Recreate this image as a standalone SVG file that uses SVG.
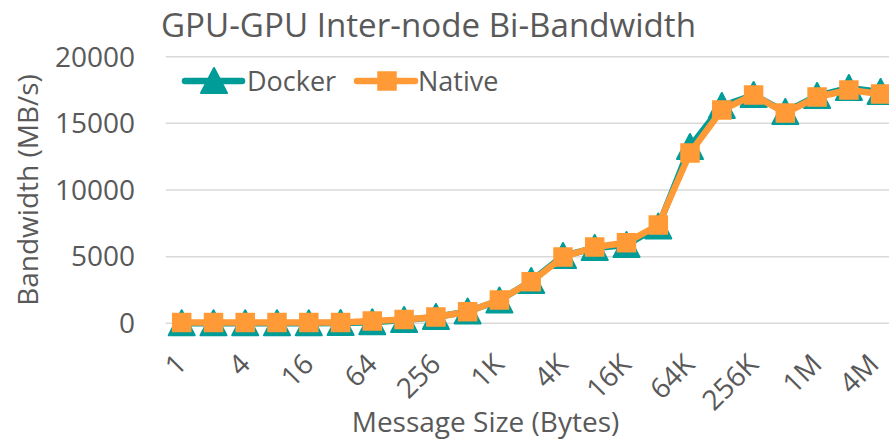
<svg xmlns="http://www.w3.org/2000/svg" width="889" height="439" viewBox="0 0 889 439">
<style>
text{font-family:"Open Sans","Noto Sans","DejaVu Sans",sans-serif;fill:#595959}
.title{font-size:33px}
.lab{font-size:27px}
.axt{font-size:28px}
.ylab{font-size:28px;text-anchor:end}
.xlab{font-size:28px;text-anchor:end}
.grid{stroke:#D9D9D9;stroke-width:1.5}
.docker{fill:none;stroke:#009C97;stroke-width:6.5;stroke-linejoin:round;stroke-linecap:round}
.native{fill:none;stroke:#FF9A36;stroke-width:6.5;stroke-linejoin:round;stroke-linecap:round}
</style>
<defs>
<marker id="tri" markerUnits="userSpaceOnUse" markerWidth="30" markerHeight="30" refX="0" refY="0" orient="0" overflow="visible">
<path d="M0,-13 L13,12 L-13,12 Z" fill="#009C97" stroke="#009C97" stroke-width="2" stroke-linejoin="round"/>
</marker>
<marker id="sq" markerUnits="userSpaceOnUse" markerWidth="30" markerHeight="30" refX="0" refY="0" orient="0" overflow="visible">
<rect x="-9.75" y="-9.75" width="19.5" height="19.5" fill="#FF9A36"/>
</marker>
</defs>
<g id="title"><text class="title" x="161" y="37" textLength="535" lengthAdjust="spacingAndGlyphs">GPU-GPU Inter-node Bi-Bandwidth</text></g>
<g id="gridlines">
<line class="grid" x1="165.8" y1="56.8" x2="889" y2="56.8"/>
<line class="grid" x1="165.8" y1="123.3" x2="889" y2="123.3"/>
<line class="grid" x1="165.8" y1="190" x2="889" y2="190"/>
<line class="grid" x1="165.8" y1="256.7" x2="889" y2="256.7"/>
<line class="grid" x1="165.8" y1="323.3" x2="889" y2="323.3"/>
</g>
<g id="y-axis">
<text class="ylab" x="135" y="66.5">20000</text>
<text class="ylab" x="135" y="133">15000</text>
<text class="ylab" x="135" y="199.5">10000</text>
<text class="ylab" x="135" y="266">5000</text>
<text class="ylab" x="135" y="333">0</text>
<text class="axt" text-anchor="middle" transform="translate(38,190) rotate(-90)">Bandwidth (MB/s)</text>
</g>
<g id="x-axis">
<text class="xlab" transform="translate(188,366) rotate(-45)">1</text>
<text class="xlab" transform="translate(251.7,366) rotate(-45)">4</text>
<text class="xlab" transform="translate(315.3,366) rotate(-45)">16</text>
<text class="xlab" transform="translate(378.8,366) rotate(-45)">64</text>
<text class="xlab" transform="translate(442.4,366) rotate(-45)">256</text>
<text class="xlab" transform="translate(505.9,366) rotate(-45)">1K</text>
<text class="xlab" transform="translate(569.5,366) rotate(-45)">4K</text>
<text class="xlab" transform="translate(633,366) rotate(-45)">16K</text>
<text class="xlab" transform="translate(696.5,366) rotate(-45)">64K</text>
<text class="xlab" transform="translate(760.1,366) rotate(-45)">256K</text>
<text class="xlab" transform="translate(823.6,366) rotate(-45)">1M</text>
<text class="xlab" transform="translate(880.5,366) rotate(-45)">4M</text>
<text class="axt" text-anchor="middle" x="485.5" y="431.5">Message Size (Bytes)</text>
</g>
<g id="connectors">
<polyline id="docker-series" class="docker" marker-start="url(#tri)" marker-mid="url(#tri)" marker-end="url(#tri)" points="181.7,323.3 213.5,323.3 245.2,323.3 277,323.3 308.8,323.3 340.6,323 372.3,322.3 404.1,320 435.9,317 467.6,311.5 499.4,300.5 531.2,281 563,256 594.7,248 626.5,245 658.3,226.5 690,147 721.8,106 753.6,95 785.3,112 817.1,96 848.9,88 880.6,92"/>
<polyline id="native-series" class="native" marker-start="url(#sq)" marker-mid="url(#sq)" marker-end="url(#sq)" points="181.7,322.5 213.5,322.5 245.2,322.5 277,322.5 308.8,322.5 340.6,322.5 372.3,321 404.1,319.5 435.9,317 467.6,311.7 499.4,300 531.2,281.7 563,257 594.7,247 626.5,242.7 658.3,225 690,153 721.8,110 753.6,95 785.3,113 817.1,97 848.9,90 880.6,94"/>
</g>
<g id="legend">
<g id="legend-docker">
<polyline class="docker" marker-mid="url(#tri)" points="185,81 214,81 242,81"/>
<text class="lab" x="247" y="91">Docker</text>
</g>
<g id="legend-native">
<polyline class="native" marker-mid="url(#sq)" points="357,81 387,81 415,81"/>
<text class="lab" x="418" y="91">Native</text>
</g>
</g>
</svg>
